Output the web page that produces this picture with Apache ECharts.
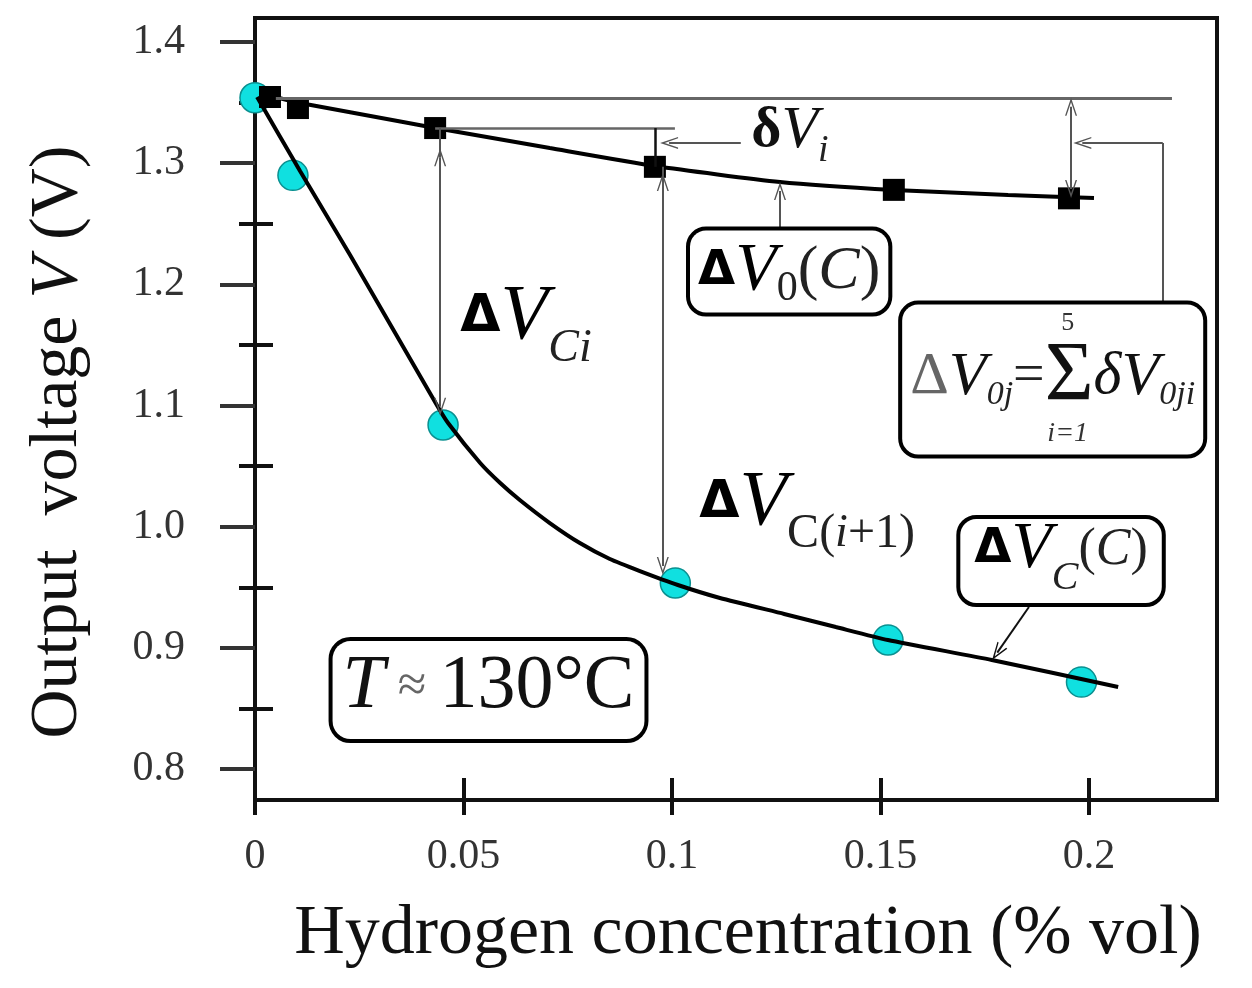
<!DOCTYPE html>
<html>
<head>
<meta charset="utf-8">
<script src="https://cdn.jsdelivr.net/npm/echarts@6/dist/echarts.min.js"></script>
<style>
html,body{margin:0;padding:0;background:#fff;}
#chart{width:1252px;height:988px;}
</style>
</head>
<body>
<div id="chart"></div>
<script>
// ---------- data ----------
const xTicks = [0, 0.05, 0.1, 0.15, 0.2];
const yTicks = [0.8, 0.9, 1.0, 1.1, 1.2, 1.3, 1.4];
const yMinorTicks = [0.85, 0.95, 1.05, 1.15, 1.25, 1.35];

// cyan circles: output voltage with hydrogen, ΔV_C(C)
const circleConc = [0, 0.0091, 0.0451, 0.1008, 0.1518, 0.1982];
const circleVolt = [1.354, 1.290, 1.084, 0.9536, 0.9066, 0.8719];

// black squares: baseline drift ΔV_0(C)
const squareConc = [0.0036, 0.0103, 0.0432, 0.0959, 0.1532, 0.1952];
const squareVolt = [1.3546, 1.3455, 1.329, 1.297, 1.278, 1.271];

// fitted curves (traced)
const lowerCurveConc = [0.0005, 0.0108, 0.0228, 0.0436, 0.0463, 0.0540, 0.0588, 0.0635, 0.0707, 0.0779, 0.0851, 0.0923, 0.1014, 0.1115, 0.1269, 0.1393, 0.1518, 0.1767, 0.2070];
const lowerCurveVolt = [1.3546, 1.2936, 1.2243, 1.1005, 1.0856, 1.0526, 1.0361, 1.0221, 1.0031, 0.9866, 0.9734, 0.9635, 0.9520, 0.9413, 0.9281, 0.9173, 0.9066, 0.8901, 0.8678];
const upperCurveConc = [0.0019, 0.0108, 0.0355, 0.0432, 0.0707, 0.0959, 0.1259, 0.1532, 0.1806, 0.2012];
const upperCurveVolt = [1.3571, 1.3497, 1.3340, 1.3291, 1.3125, 1.2977, 1.2845, 1.2779, 1.2738, 1.2713];

// ---------- annotation anchors (data coordinates) ----------
const refLevel = 1.354;
const chev = 'path://M0,0 L6,14 L4.6,14 L0,3.6 L-4.6,14 L-6,14 Z';

const serif = "'Liberation Serif','Times New Roman','DejaVu Serif',serif";
const sansB = "'DejaVu Sans',sans-serif";
const ink = '#000';
const gray = '#555';

function zip(a, b) { return a.map((v, i) => [v, b[i]]); }

function seg(x1, y1, x2, y2, s1, s2, color, width) {
  return [
    { coord: [x1, y1], symbol: s1 || 'none', lineStyle: { color: color || gray, width: width || 2, type: 'solid' } },
    { coord: [x2, y2], symbol: s2 || 'none' }
  ];
}

const annoLines = [
  seg(0.005, refLevel, 0.2199, refLevel, null, null, '#666', 3),
  seg(0.0432, 1.329, 0.1007, 1.329, null, null, '#666', 2.5),
  // ΔV_Ci double arrow
  seg(0.0444, 1.329, 0.0444, 1.305),
  seg(0.0444, 1.305, 0.0444, 1.099, chev, chev),
  // ΔV_C(i+1) double arrow
  seg(0.0978, 1.297, 0.0978, 1.2845),
  seg(0.0978, 1.2845, 0.0978, 0.9676, chev, chev),
  // δV_i
  seg(0.0959, 1.329, 0.0959, 1.297, null, null, '#111', 2.5),
  seg(0.1165, 1.3167, 0.0993, 1.3167, null, chev),
  // ΔV_0(C) pointer
  seg(0.1259, 1.2465, 0.1259, 1.2771, null, chev),
  // ΔV_0j double arrow
  seg(0.1957, 1.3466, 0.1957, 1.2787, chev, chev),
  // connector from sum box
  seg(0.2177, 1.1855, 0.2177, 1.3167),
  seg(0.2177, 1.3167, 0.1984, 1.3167, null, chev),
  // ΔV_C(C) pointer
  seg(0.1856, 0.9338, 0.1780, 0.8962, null, chev, '#111', 2)
];

const richBase = {
  d: { fontFamily: sansB, fontWeight: 'bold', fontSize: 52, color: ink, lineHeight: 72 },
  v: { fontFamily: serif, fontStyle: 'italic', fontSize: 78, color: ink, lineHeight: 72 },
  s: { fontFamily: serif, fontStyle: 'italic', fontSize: 46, color: '#222', lineHeight: 72, padding: [62, 0, 0, 0] },
  su: { fontFamily: serif, fontSize: 48, color: '#222', lineHeight: 72, padding: [62, 0, 0, 0] }
};

const boxStyle = { backgroundColor: '#fff', borderColor: '#000', borderWidth: 4, textBorderWidth: 0, textShadowBlur: 0 };

const annoLabels = [
  { value: [0.065, 1.1723], label: { formatter: '{d|Δ}{v|V}{s|Ci}', rich: richBase } },
  { value: [0.1324, 1.0196], label: { formatter: '{d|Δ}{v|V}{su|C(}{s|i}{su|+1)}', rich: richBase } },
  { value: [0.1281, 1.2106], label: Object.assign({
      formatter: '{d|Δ}{v|V}{s|0}{p|(}{vi|C}{p|)}',
      borderRadius: 16, padding: [4, 8, 4, 8],
      rich: {
        d: { fontFamily: sansB, fontWeight: 'bold', fontSize: 48, color: ink, lineHeight: 74 },
        v: { fontFamily: serif, fontStyle: 'italic', fontSize: 68, color: ink, lineHeight: 74 },
        s: { fontFamily: serif, fontSize: 42, color: '#222', lineHeight: 74, padding: [34, 0, 0, 0] },
        p: { fontFamily: serif, fontSize: 62, color: '#222', lineHeight: 74 },
        vi: { fontFamily: serif, fontStyle: 'italic', fontSize: 62, color: '#222', lineHeight: 74 }
      } }, boxStyle) },
  { value: [0.1933, 0.9718], label: Object.assign({
      formatter: '{d|Δ}{v|V}{s|C}{p|(}{vi|C}{p|)}',
      borderRadius: 16, padding: [4, 14, 26, 14],
      rich: {
        d: { fontFamily: sansB, fontWeight: 'bold', fontSize: 48, color: ink, lineHeight: 54 },
        v: { fontFamily: serif, fontStyle: 'italic', fontSize: 66, color: ink, lineHeight: 54 },
        s: { fontFamily: serif, fontStyle: 'italic', fontSize: 40, color: '#222', lineHeight: 54, padding: [56, 0, 0, 0] },
        p: { fontFamily: serif, fontSize: 52, color: '#222', lineHeight: 54 },
        vi: { fontFamily: serif, fontStyle: 'italic', fontSize: 52, color: '#222', lineHeight: 54 }
      } }, boxStyle) },
  { value: [0.056, 0.8653], label: Object.assign({
      formatter: '{t|T}{a| ≈ }{n|130°C}',
      borderRadius: 18, padding: [6, 10, 12, 10],
      rich: {
        t: { fontFamily: serif, fontStyle: 'italic', fontSize: 76, color: '#111', lineHeight: 80 },
        a: { fontFamily: serif, fontSize: 52, color: '#666', lineHeight: 80 },
        n: { fontFamily: serif, fontSize: 76, color: '#111', lineHeight: 80 }
      } }, boxStyle) },
  { value: [0.1283, 1.3266], label: {
      formatter: '{dl|δ}{v|V}{s|i}',
      rich: {
        dl: { fontFamily: serif, fontWeight: 'bold', fontSize: 58, color: '#111', lineHeight: 60 },
        v: { fontFamily: serif, fontStyle: 'italic', fontSize: 60, color: '#111', lineHeight: 60 },
        s: { fontFamily: serif, fontStyle: 'italic', fontSize: 38, color: '#222', lineHeight: 60, padding: [40, 0, 0, 0] }
      } } },
  { value: [0.1552, 1.1215], label: Object.assign({
      align: 'left',
      formatter: '{pre| }{l5|5}{post| }\n{dd|Δ}{v|V}{s|0j}{eq|=}{sig|Σ}{dl|δ}{v|V}{s|0ji}\n{pre| }{l1|i=1}{post| }',
      borderRadius: 16, padding: [6, 8, 6, 8],
      rich: {
        pre: { width: 132, fontSize: 20, lineHeight: 26 },
        post: { width: 102, fontSize: 20, lineHeight: 26 },
        l5: { width: 50, align: 'center', fontFamily: serif, fontSize: 26, color: '#333', lineHeight: 26 },
        l1: { width: 50, align: 'center', fontFamily: serif, fontStyle: 'italic', fontSize: 28, color: '#333', lineHeight: 30 },
        dd: { fontFamily: serif, fontSize: 60, color: '#666', lineHeight: 82 },
        v: { fontFamily: serif, fontStyle: 'italic', fontSize: 62, color: '#111', lineHeight: 82 },
        s: { fontFamily: serif, fontStyle: 'italic', fontSize: 34, color: '#222', lineHeight: 82, padding: [36, 0, 0, 0] },
        eq: { fontFamily: serif, fontSize: 56, color: '#222', lineHeight: 82 },
        sig: { fontFamily: serif, fontSize: 84, color: '#111', lineHeight: 82 },
        dl: { fontFamily: serif, fontStyle: 'italic', fontSize: 60, color: '#111', lineHeight: 82 }
      } }, boxStyle) }
];

const chart = echarts.init(document.getElementById('chart'));

const tickLabelStyle = { fontFamily: serif, fontSize: 42, color: '#333' };

const option = {
  animation: false,
  backgroundColor: '#fff',
  grid: { left: 255, right: 35, top: 18, bottom: 188, show: true, borderColor: '#111', borderWidth: 4, backgroundColor: 'transparent', outerBoundsMode: 'none' },
  xAxis: [
    {
      type: 'value', min: 0, max: 0.2307,
      name: 'Hydrogen concentration (% vol)', nameLocation: 'middle', nameGap: 100,
      nameTextStyle: { fontFamily: serif, fontSize: 70, color: '#111', padding: [0, 0, 0, 24] },
      axisLine: { show: true, onZero: false, lineStyle: { color: '#111', width: 4 } },
      axisTick: { show: true, inside: true, length: 22, customValues: xTicks, lineStyle: { color: '#111', width: 4 } },
      axisLabel: Object.assign({ margin: 36, customValues: xTicks, formatter: v => String(+v.toFixed(2)) }, tickLabelStyle),
      splitLine: { show: false }
    },
    {
      type: 'value', min: 0, max: 0.2307, position: 'bottom',
      axisLine: { show: false },
      axisTick: { show: true, inside: false, length: 15, customValues: xTicks, lineStyle: { color: '#111', width: 4 } },
      axisLabel: { show: false },
      splitLine: { show: false }
    }
  ],
  yAxis: [
    {
      type: 'value', min: 0.7746, max: 1.4198,
      name: 'Output  voltage {it|V} (V)', nameLocation: 'middle', nameGap: 163,
      nameTextStyle: { fontFamily: serif, fontSize: 68, color: '#111', padding: [0, 66, 0, 0],
        rich: { it: { fontFamily: serif, fontStyle: 'italic', fontSize: 68, color: '#111' } } },
      axisLine: { show: true, onZero: false, lineStyle: { color: '#111', width: 4 } },
      axisTick: { show: true, inside: false, length: 35, customValues: yTicks, lineStyle: { color: '#333', width: 4 } },
      axisLabel: Object.assign({ margin: 70, customValues: yTicks, formatter: v => v.toFixed(1) }, tickLabelStyle),
      splitLine: { show: false }
    },
    {
      type: 'value', min: 0.7746, max: 1.4198, position: 'left',
      axisLine: { show: false },
      axisTick: { show: true, inside: true, length: 18, customValues: yMinorTicks, lineStyle: { color: '#111', width: 4 } },
      axisLabel: { show: false }, splitLine: { show: false }
    },
    {
      type: 'value', min: 0.7746, max: 1.4198, position: 'left',
      axisLine: { show: false },
      axisTick: { show: true, inside: false, length: 16, customValues: yMinorTicks, lineStyle: { color: '#111', width: 4 } },
      axisLabel: { show: false }, splitLine: { show: false }
    }
  ],
  series: [
    {
      name: 'with H2', type: 'scatter', z: 2, symbol: 'circle', symbolSize: 30,
      data: zip(circleConc, circleVolt),
      itemStyle: { color: '#10e0e0', borderColor: '#0a9090', borderWidth: 1.5, opacity: 1 }
    },
    {
      name: 'fit C', type: 'line', z: 3, smooth: 0.2, showSymbol: false, symbol: 'none',
      data: zip(lowerCurveConc, lowerCurveVolt),
      lineStyle: { color: '#000', width: 4 }
    },
    {
      name: 'fit 0', type: 'line', z: 3, smooth: 0.2, showSymbol: false, symbol: 'none',
      data: zip(upperCurveConc, upperCurveVolt),
      lineStyle: { color: '#000', width: 4 }
    },
    {
      name: 'baseline', type: 'scatter', z: 4, symbol: 'rect', symbolSize: 22,
      data: zip(squareConc, squareVolt),
      itemStyle: { color: '#000', opacity: 1 }
    },
    {
      name: 'annotations', type: 'scatter', z: 6, symbolSize: 0, silent: true,
      itemStyle: { color: 'transparent', opacity: 1 },
      label: { show: true, position: 'inside', color: ink, opacity: 1 },
      data: annoLabels,
      markLine: {
        silent: true, z: 5, animation: false,
        symbolSize: [12, 18],
        label: { show: false },
        emphasis: { disabled: true },
        data: annoLines
      }
    }
  ]
};
chart.setOption(option);
</script>
</body>
</html>
